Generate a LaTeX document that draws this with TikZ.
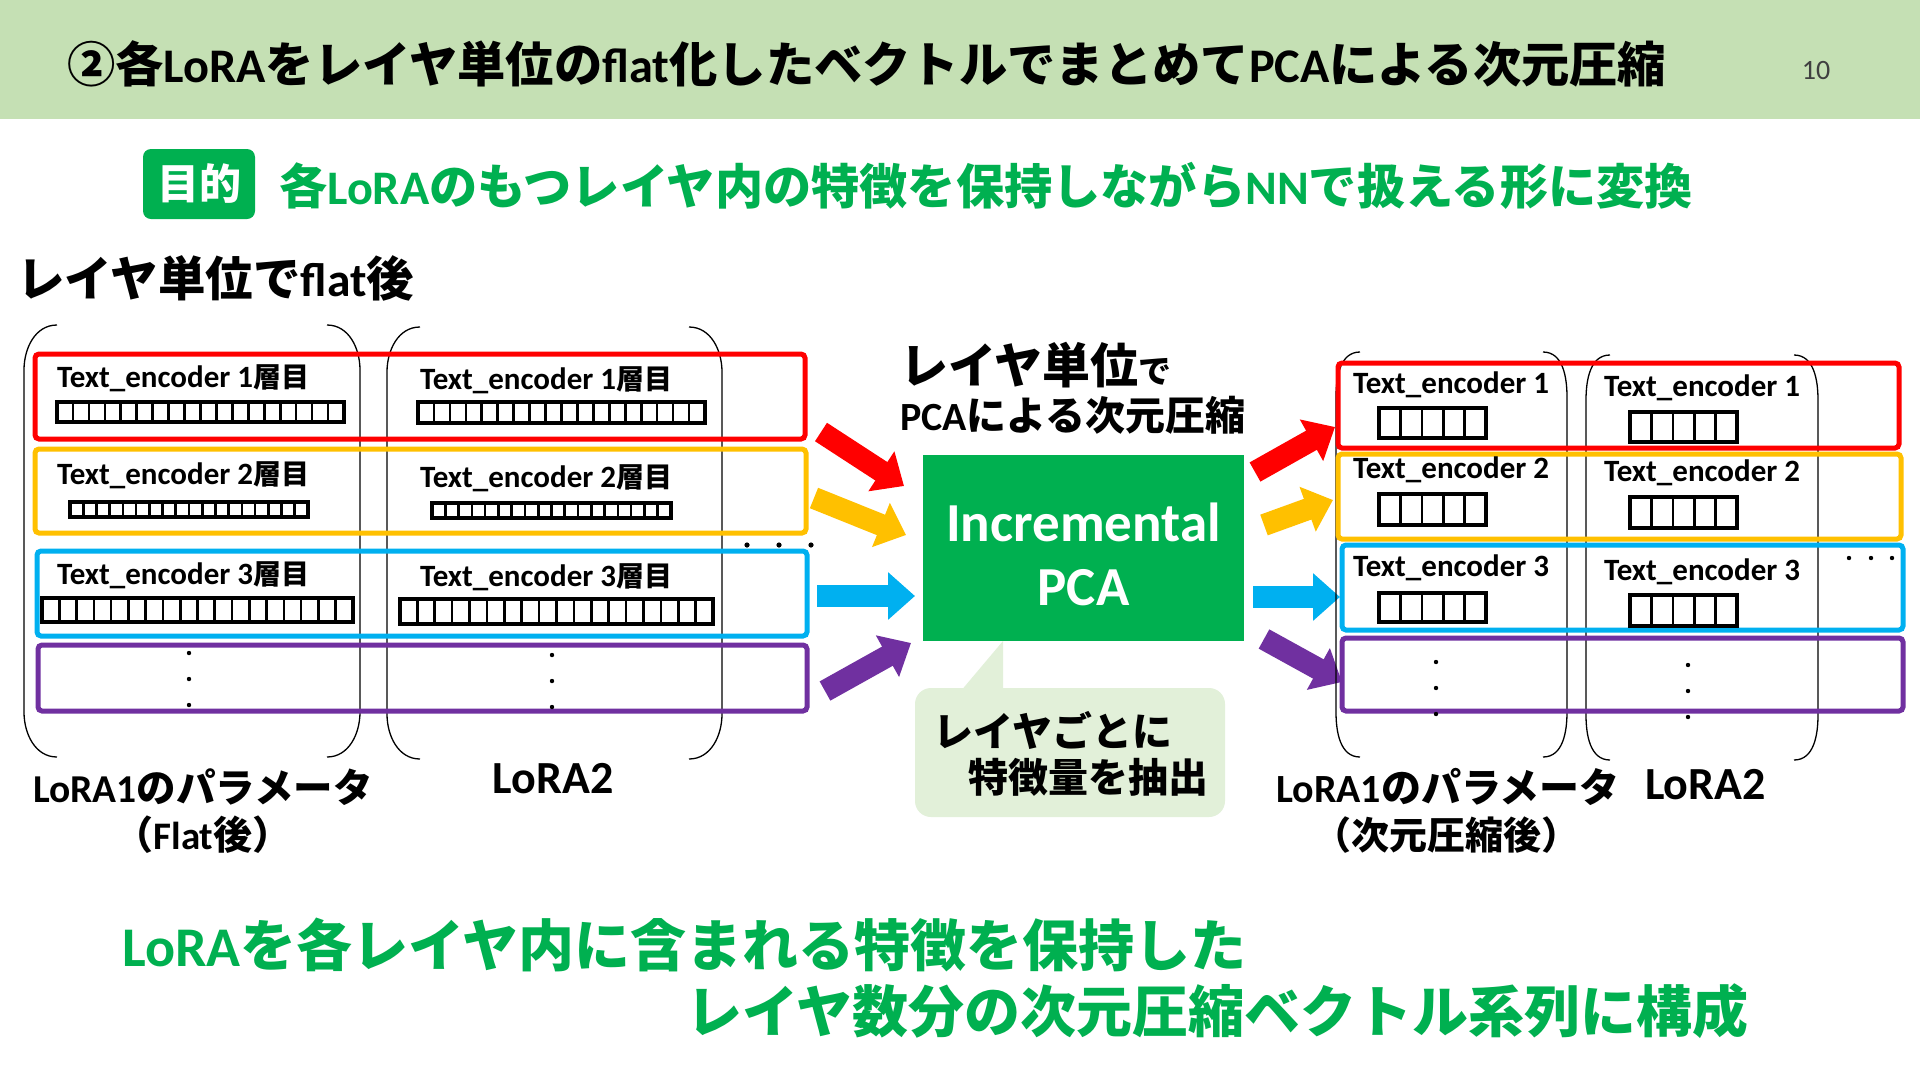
\documentclass[tikz,border=0pt]{standalone}
\usepackage{fontspec}
\setmainfont{Noto Sans CJK JP}
\newfontfamily\carl{Carlito}
\usetikzlibrary{arrows.meta}
\newcommand\lat[1]{{\carl #1}}
\newcommand\jsm[1]{{\fontsize{28}{28}\selectfont #1}}
\definecolor{hdr}{HTML}{C5E0B4}
\definecolor{grn}{HTML}{00B050}
\definecolor{callout}{HTML}{E2F0D9}
\definecolor{cred}{HTML}{FF0000}
\definecolor{cyel}{HTML}{FFC000}
\definecolor{cblu}{HTML}{00B0F0}
\definecolor{cpur}{HTML}{7030A0}
\newcommand\vecbar[5]{%
  \draw[barline] (#1,#2) rectangle (#3,#4);
  \pgfmathtruncatemacro\nn{#5-1}%
  \foreach \i in {1,...,\nn}{\draw[cellline] ({#1+\i*(#3-#1)/#5},#2) -- ({#1+\i*(#3-#1)/#5},#4);}}
% #1 left x, #2 right x, #3 top, #4 bottom, #5 end offset
\newcommand\parens[5]{%
  \draw[parenline] (#1+#5,#3) to[out=180,in=90] (#1,#3+45) -- (#1,#4-45) to[out=-90,in=180] (#1+#5,#4);
  \draw[parenline] (#2-#5,#3) to[out=0,in=90] (#2,#3+45) -- (#2,#4-45) to[out=-90,in=0] (#2-#5,#4);}
\newcommand\threedots[2]{%
  \fill (#1,#2-26) circle (2.2); \fill (#1,#2) circle (2.2); \fill (#1,#2+26) circle (2.2);}
\begin{document}
\begin{tikzpicture}[x=1pt,y=-1pt,
  fs/.style={font=\fontsize{#1}{#1}\selectfont\bfseries},
  txt/.style={inner sep=0pt, anchor=west},
  ctxt/.style={inner sep=0pt, anchor=center},
  frame/.style={line width=5pt, rounded corners=4pt},
  barline/.style={line width=3.5pt},
  cellline/.style={line width=2.6pt},
  parenline/.style={line width=1.3pt},
  bigarrow/.style={line width=22pt, -{Triangle[width=46pt,length=27pt]}}]
\useasboundingbox (0,0) rectangle (1920,1080);
\fill[white] (0,0) rectangle (1920,1080);
\fill[hdr] (0,0) rectangle (1920,119);

% header
\node[txt, fs=48.3] (title) at (67,64) {②各\lat{LoRA}をレイヤ単位の\lat{flat}化したベクトルでまとめて\lat{PCA}による次元圧縮};
\node[ctxt, font=\fontsize{28}{28}\selectfont\carl, text=black!75] (pnum) at (1816,71) {10};

% goal
\node[fill=grn, rounded corners=8pt, minimum width=112pt, minimum height=70pt, inner sep=0pt] (goalbox) at (199,184) {};
\node[ctxt, fs=42, text=white] (goallab) at (goalbox.center) {目的};
\node[txt, fs=48.2, text=grn] (goal) at (279,186) {各\lat{LoRA}のもつレイヤ内の特徴を保持しながら\lat{NN}で扱える形に変換};

\node[txt, fs=47.5] (flathead) at (17,278) {レイヤ単位で\lat{flat}後};

% ---------------- left side ----------------
\parens{24}{360}{325}{757}{33}
\parens{387}{722}{327}{759}{33}

\draw[frame, cred] (35,354) rectangle (805,439);
\draw[frame, cyel] (35,449) rectangle (806,533);
\draw[frame, cblu] (37,551) rectangle (807,636);
\draw[frame, cpur] (38,645) rectangle (807,711);

\node[txt, fs=31] (l1a) at (57,378) {\lat{Text\_encoder 1}\jsm{層目}};
\node[txt, fs=31] (l1b) at (57,475) {\lat{Text\_encoder 2}\jsm{層目}};
\node[txt, fs=31] (l1c) at (57,575) {\lat{Text\_encoder 3}\jsm{層目}};
\node[txt, fs=31] (l2a) at (420,380) {\lat{Text\_encoder 1}\jsm{層目}};
\node[txt, fs=31] (l2b) at (420,478) {\lat{Text\_encoder 2}\jsm{層目}};
\node[txt, fs=31] (l2c) at (420,577) {\lat{Text\_encoder 3}\jsm{層目}};

\vecbar{57}{402}{344}{422}{18}
\vecbar{70}{502}{308}{517}{18}
\vecbar{42}{598}{353}{622}{18}
\vecbar{418}{402}{705}{423}{18}
\vecbar{432}{503}{671}{518}{18}
\vecbar{400}{599}{713}{624}{18}

\threedots{189}{679}
\threedots{552}{681}
\fill (747,545) circle (2.6); \fill (779,545) circle (2.6); \fill (811,545) circle (2.6);

\node[txt, fs=39.5] (lab1) at (33,787) {\lat{LoRA1}のパラメータ};
\node[ctxt, fs=39] (lab1b) at (203,835) {（\lat{Flat}後）};
\node[ctxt, fs=46] (lab2) at (553,779) {\lat{LoRA2}};

% ---------------- centre ----------------
\node[txt, fs=48] (unit) at (900,365) {レイヤ単位{\fontsize{33}{33}\selectfont で}};
\node[txt, fs=40] (pcadim) at (900,415) {\lat{PCA}による次元圧縮};

\node[fill=grn, minimum width=321pt, minimum height=186pt, inner sep=0pt] (pca) at (1083.5,548) {};
\node[ctxt, fs=55, text=white] (pcat1) at (1083.5,522) {\lat{Incremental}};
\node[ctxt, fs=55, text=white] (pcat2) at (1083.5,588) {\lat{PCA}};

\fill[callout, rounded corners=16pt] (915,688) rectangle (1225,817);
\fill[callout] (1003,641) -- (1003,692) -- (960,692) -- cycle;
\node[txt, fs=40] (co1) at (933,730) {レイヤごとに};
\node[txt, fs=40] (co2) at (968,777) {特徴量を抽出};

% arrows in
\coordinate (ia1) at (821,432); \coordinate (ib1) at (904,486);
\coordinate (ia2) at (814,498); \coordinate (ib2) at (906,535);
\coordinate (ia3) at (817,596); \coordinate (ib3) at (915,596);
\coordinate (ia4) at (825,691); \coordinate (ib4) at (911,643);
\draw[bigarrow, cred] (ia1) -- (ib1);
\draw[bigarrow, cyel] (ia2) -- (ib2);
\draw[bigarrow, cblu] (ia3) -- (ib3);
\draw[bigarrow, cpur] (ia4) -- (ib4);
% arrows out
\coordinate (oa1) at (1255,472); \coordinate (ob1) at (1335,427);
\coordinate (oa2) at (1264,525); \coordinate (ob2) at (1333,500);
\coordinate (oa3) at (1253,597); \coordinate (ob3) at (1340,597);
\coordinate (oa4) at (1264,639); \coordinate (ob4) at (1342,682);
\draw[bigarrow, cred] (oa1) -- (ob1);
\draw[bigarrow, cyel] (oa2) -- (ob2);
\draw[bigarrow, cblu] (oa3) -- (ob3);
\draw[bigarrow, cpur] (oa4) -- (ob4);

% ---------------- right side ----------------
\parens{1336}{1567}{352}{757}{24}
\parens{1586}{1818}{355}{760}{24}

\draw[frame, cred] (1338,363) rectangle (1899,448);
\draw[frame, cyel] (1338,454) rectangle (1901,539);
\draw[frame, cblu] (1342,545) rectangle (1903,630);
\draw[frame, cpur] (1342,638) rectangle (1903,711);

\node[txt, fs=31] (r1a) at (1353,385) {\lat{Text\_encoder 1}};
\node[txt, fs=31] (r1b) at (1353,470) {\lat{Text\_encoder 2}};
\node[txt, fs=31] (r1c) at (1353,568) {\lat{Text\_encoder 3}};
\node[txt, fs=31] (r2a) at (1604,388) {\lat{Text\_encoder 1}};
\node[txt, fs=31] (r2b) at (1604,473) {\lat{Text\_encoder 2}};
\node[txt, fs=31] (r2c) at (1604,572) {\lat{Text\_encoder 3}};

\vecbar{1379}{408}{1486}{438}{5}
\vecbar{1379}{494}{1486}{525}{5}
\vecbar{1379}{593}{1486}{622}{5}
\vecbar{1630}{412}{1737}{442}{5}
\vecbar{1630}{497}{1737}{528}{5}
\vecbar{1630}{595}{1737}{626}{5}

\threedots{1436}{688}
\threedots{1688}{691}
\fill (1849,558) circle (2.2); \fill (1871,558) circle (2.2); \fill (1892,558) circle (2.2);

\node[txt, fs=40] (rlab1) at (1276,787) {\lat{LoRA1}のパラメータ};
\node[ctxt, fs=38] (rlab1b) at (1446,835) {（次元圧縮後）};
\node[txt, fs=46] (rlab2) at (1645,785) {\lat{LoRA2}};

% ---------------- bottom ----------------
\node[txt, fs=56, text=grn] (sum1) at (122,945) {\lat{LoRA}を各レイヤ内に含まれる特徴を保持した};
\node[txt, fs=56, text=grn] (sum2) at (686,1011) {レイヤ数分の次元圧縮ベクトル系列に構成};
\end{tikzpicture}
\end{document}
